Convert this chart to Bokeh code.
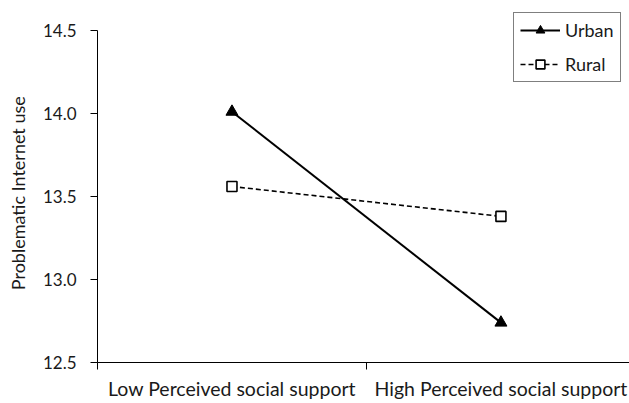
from bokeh.plotting import figure
from bokeh.models import FixedTicker, Range1d, Legend, LegendItem, NumeralTickFormatter
from bokeh.embed import file_html
from bokeh.resources import INLINE

categories = ["Low Perceived social support", "High Perceived social support"]
x_pos = [0.5, 1.5]
urban = [14.01, 12.74]
rural = [13.56, 13.38]
y_ticks = [12.5, 13.0, 13.5, 14.0, 14.5]

FONT = "Lato"
TXT = "#1a1a1a"

p = figure(width=629, height=403, output_backend="svg", toolbar_location=None,
           x_range=Range1d(0, 1.978), y_range=Range1d(12.5, 14.65),
           min_border_left=97, min_border_top=5, min_border_bottom=41, min_border_right=0)
p.outline_line_color = None
p.xgrid.visible = False
p.ygrid.visible = False

ru_line = p.line(x_pos, rural, line_color="black", line_width=1.6, line_dash="5 3")
ru_pts = p.scatter(x_pos, rural, marker="square", size=10, fill_color="white",
                   line_color="black", line_width=1.6)
ur_line = p.line(x_pos, urban, line_color="black", line_width=2)
ur_pts = p.scatter(x_pos, urban, marker="triangle", size=12, fill_color="black",
                   line_color="black")

# x axis
xa = p.xaxis[0]
xa.ticker = FixedTicker(ticks=x_pos, minor_ticks=[0, 1, 2])
xa.major_label_overrides = {x: c for x, c in zip(x_pos, categories)}
xa.major_tick_out = 0
xa.major_tick_in = 0
xa.minor_tick_out = 7
xa.minor_tick_in = 0
xa.minor_tick_line_color = "black"
xa.axis_line_color = "black"
xa.major_label_standoff = 7
xa.major_label_text_font = FONT
xa.major_label_text_font_size = "19.5px"
xa.major_label_text_color = TXT

# y axis
ya = p.yaxis[0]
ya.ticker = FixedTicker(ticks=y_ticks, minor_ticks=[])
ya.formatter = NumeralTickFormatter(format="0.0")
ya.bounds = (y_ticks[0], y_ticks[-1])
ya.major_tick_out = 7
ya.major_tick_in = 0
ya.major_tick_line_color = "black"
ya.axis_line_color = "black"
ya.major_label_standoff = 14
ya.major_label_text_font = FONT
ya.major_label_text_font_size = "17px"
ya.major_label_text_color = TXT
ya.axis_label = "Problematic Internet use\u00a0\u00a0\u00a0\u00a0"
ya.axis_label_text_font = FONT
ya.axis_label_text_font_size = "18px"
ya.axis_label_text_font_style = "normal"
ya.axis_label_text_color = TXT
ya.axis_label_standoff = 11

legend = Legend(items=[LegendItem(label="Urban", renderers=[ur_line, ur_pts]),
                       LegendItem(label="Rural", renderers=[ru_line, ru_pts])],
                location=(416, 280))
legend.border_line_color = "black"
legend.border_line_width = 1.5
legend.background_fill_alpha = 1
legend.label_text_font = FONT
legend.label_text_font_size = "18px"
legend.label_text_color = TXT
legend.glyph_width = 40
legend.glyph_height = 22
legend.spacing = 12
legend.padding = 6
legend.margin = 0
legend.label_standoff = 5
p.add_layout(legend, "center")

open("out.html", "w").write(file_html(p, INLINE))
